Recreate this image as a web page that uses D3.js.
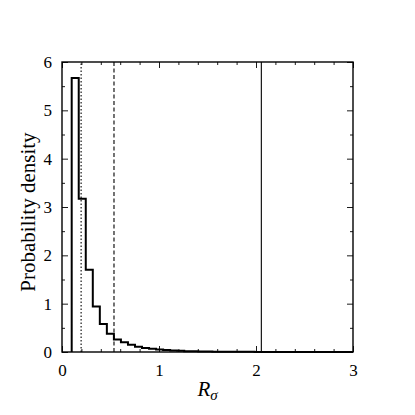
<!DOCTYPE html>
<html>
<head>
<meta charset="utf-8">
<script src="https://cdn.jsdelivr.net/npm/d3@7"></script>
<style>
  html, body { margin: 0; padding: 0; background: #fff; }
  svg { display: block; }
</style>
</head>
<body>
<svg id="chart" width="415" height="415"></svg>
<script>
// ---- data ----
const binEdges = [0.1, 0.1725, 0.245, 0.3175, 0.39, 0.4625, 0.535, 0.6075, 0.68, 0.7525,
  0.825, 0.8975, 0.97, 1.0425, 1.115, 1.1875, 1.26, 1.3325, 1.405, 1.4775,
  1.55, 1.6225, 1.695, 1.7675, 1.84, 1.9125, 1.985, 2.0575, 2.13, 2.2025,
  2.275, 2.3475, 2.42, 2.4925, 2.565, 2.6375, 2.71, 2.7825, 2.855, 2.9275, 3.0];
const densities = [5.67, 3.17, 1.70, 0.94, 0.58, 0.38, 0.26, 0.20, 0.15, 0.11,
  0.085, 0.065, 0.05, 0.04, 0.03, 0.024, 0.018, 0.014, 0.011, 0.009,
  0.007, 0.006, 0.005, 0.004, 0.003, 0.003, 0.002, 0.002, 0.002, 0.001,
  0.001, 0.001, 0.001, 0.001, 0.0, 0.001, 0.0, 0.0, 0.0, 0.0];
const refLines = [
  { x: 0.197, dash: "1.5,2" },
  { x: 0.536, dash: "4,2.5" },
  { x: 2.055, dash: null }
];
const xTicks = [0, 1, 2, 3];
const yTicks = [0, 1, 2, 3, 4, 5, 6];
const xMinor = [0.2, 0.4, 0.6, 0.8, 1.2, 1.4, 1.6, 1.8, 2.2, 2.4, 2.6, 2.8];
const yMinor = [0.5, 1.5, 2.5, 3.5, 4.5, 5.5];
const xLabel = "R";
const xLabelSub = "σ";
const yLabel = "Probability density";

// pick the first installed serif font
function pickFont(cands) {
  const c = document.createElement("canvas").getContext("2d");
  const s = "Probability density 0123456789 Rσ";
  const w = f => { c.font = "40px " + f; return c.measureText(s).width; };
  const base1 = w("monospace"), base2 = w("sans-serif");
  for (const f of cands) {
    const a = w(`'${f}', monospace`), b = w(`'${f}', sans-serif`);
    if (Math.abs(a - b) < 0.5 && Math.abs(a - base1) > 0.5) return `'${f}', serif`;
  }
  return "serif";
}
const FONT = pickFont(["Latin Modern Roman", "CMU Serif", "Liberation Serif", "DejaVu Serif",
  "Noto Serif", "Times New Roman", "TeX Gyre Termes", "Nimbus Roman", "FreeSerif", "Tinos"]);

// ---- layout ----
const L = 62, R = 353, T = 62, B = 352;
const svg = d3.select("#chart");
const x = d3.scaleLinear().domain([0, 3]).range([L, R]);
const y = d3.scaleLinear().domain([0, 6]).range([B, T]);

// histogram outline (step)
const pts = [[binEdges[0], 0]];
densities.forEach((d, i) => {
  pts.push([binEdges[i], d]);
  pts.push([binEdges[i + 1], d]);
});
pts.push([binEdges[binEdges.length - 1], 0]);
svg.append("path")
  .attr("d", d3.line().x(p => x(p[0])).y(p => y(p[1]))(pts))
  .attr("fill", "none").attr("stroke", "#000").attr("stroke-width", 2)
  .attr("stroke-linejoin", "miter");

// reference lines
refLines.forEach(r => {
  svg.append("line")
    .attr("x1", x(r.x)).attr("x2", x(r.x))
    .attr("y1", y(0)).attr("y2", y(6))
    .attr("stroke", "#000").attr("stroke-width", 1.1)
    .attr("stroke-dasharray", r.dash);
});

// axes (ticks inward, mirrored)
function axisTicks(axisGen, transform) {
  const g = svg.append("g").attr("transform", transform).call(axisGen);
  g.select(".domain").remove();
  g.attr("font-family", null).attr("font-size", null);
  g.selectAll("line").attr("stroke", "#000").attr("stroke-width", 0.9);
  g.selectAll("text").style("font-family", FONT).style("font-size", "17px").attr("fill", "#000");
  return g;
}
axisTicks(d3.axisBottom(x).tickValues(xTicks).tickSize(-6).tickPadding(12).tickFormat(d3.format("d")), `translate(0,${B})`);
axisTicks(d3.axisBottom(x).tickValues(xMinor).tickSize(-3).tickFormat(""), `translate(0,${B})`);
axisTicks(d3.axisTop(x).tickValues(xTicks).tickSize(-6).tickFormat(""), `translate(0,${T})`);
axisTicks(d3.axisTop(x).tickValues(xMinor).tickSize(-3).tickFormat(""), `translate(0,${T})`);
axisTicks(d3.axisLeft(y).tickValues(yTicks).tickSize(-6).tickPadding(10).tickFormat(d3.format("d")), `translate(${L},0)`);
axisTicks(d3.axisLeft(y).tickValues(yMinor).tickSize(-3).tickFormat(""), `translate(${L},0)`);
axisTicks(d3.axisRight(y).tickValues(yTicks).tickSize(-6).tickFormat(""), `translate(${R},0)`);
axisTicks(d3.axisRight(y).tickValues(yMinor).tickSize(-3).tickFormat(""), `translate(${R},0)`);

// frame
svg.append("rect").attr("x", L).attr("y", T).attr("width", R - L).attr("height", B - T)
  .attr("fill", "none").attr("stroke", "#000").attr("stroke-width", 1.4);

// labels
const xt = svg.append("text").attr("x", (L + R) / 2).attr("y", 396)
  .attr("text-anchor", "middle").style("font-family", FONT).style("font-size", "21px")
  .style("font-style", "italic");
xt.append("tspan").text(xLabel);
xt.append("tspan").attr("dy", 4).style("font-size", "15px").text(xLabelSub);

svg.append("text")
  .attr("transform", `translate(35,${(T + B) / 2 + 5}) rotate(-90)`)
  .attr("text-anchor", "middle").style("font-family", FONT).style("font-size", "21px")
  .text(yLabel);
</script>
</body>
</html>
